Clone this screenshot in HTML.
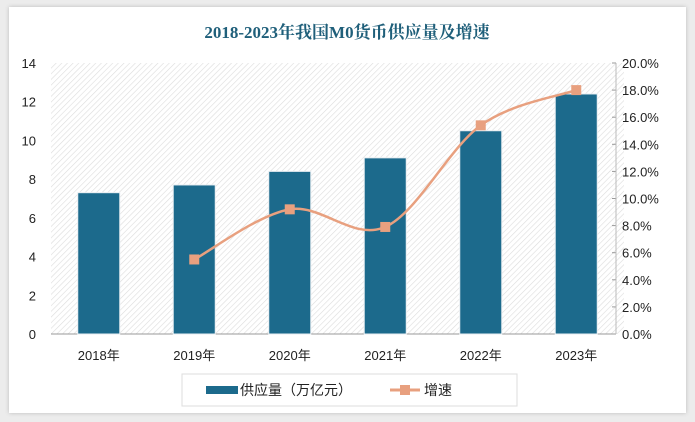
<!DOCTYPE html>
<html><head><meta charset="utf-8"><style>
body{margin:0;width:695px;height:422px;background:#ececec;overflow:hidden;font-family:"Liberation Sans","Noto Sans CJK SC",sans-serif}
#card{position:absolute;left:9px;top:7px;width:677px;height:406px;background:#fff;box-shadow:0 0 4px #bbb}
</style></head><body>
<div id="card"></div>
<svg id="chart" width="695" height="422" style="position:absolute;left:0;top:0">
<defs><pattern id="hatch" width="4" height="4" patternUnits="userSpaceOnUse" patternTransform="rotate(45)"><rect width="4" height="4" fill="#fff"/><line x1="0" y1="0" x2="0" y2="4" stroke="#dcdcdc" stroke-width="1.2"/></pattern></defs>
<text x="347" y="38" text-anchor="middle" font-size="17" font-weight="bold" fill="#1f5f7a" font-family="Liberation Serif,'Noto Serif CJK SC',serif">2018-2023年我国M0货币供应量及增速</text>
</svg>
<script>
const categories=["2018年","2019年","2020年","2021年","2022年","2023年"];
const supply=[7.3,7.7,8.4,9.1,10.5,12.4];
const growth=[null,5.5,9.2,7.9,15.4,18.0];
const leftTicks=[0,2,4,6,8,10,12,14];
const rightTicks=[0,2,4,6,8,10,12,14,16,18,20];
const svg=document.getElementById('chart');const NS='http://www.w3.org/2000/svg';
const L=51,R=624,T=63,B=334;
const bw=(R-L)/categories.length;
const yL=v=>B-(v/14)*(B-T);const yR=v=>B-(v/20)*(B-T);const xc=i=>L+bw*(i+0.5);
function mk(t,a){const e=document.createElementNS(NS,t);for(const k in a)e.setAttribute(k,a[k]);svg.appendChild(e);return e;}
const bg=mk('rect',{x:L,y:T,width:R-L,height:B-T,fill:'url(#hatch)'});


leftTicks.forEach(v=>{const t=mk('text',{x:36,y:yL(v)+5,'text-anchor':'end','font-size':13,fill:'#222'});t.textContent=v;

});
rightTicks.forEach(v=>{const t=mk('text',{x:622,y:yR(v)+5,'font-size':13,fill:'#222'});t.textContent=v.toFixed(1)+'%';


mk('line',{x1:612,x2:616,y1:yR(v),y2:yR(v),stroke:'#999'});});
mk('line',{x1:L,x2:616,y1:B,y2:B,stroke:'#999'});
mk('line',{x1:616,x2:616,y1:T,y2:B,stroke:'#bbb'});
supply.forEach((v,i)=>{const r=mk('rect',{x:xc(i)-21,y:yL(v),width:42,height:B-yL(v),fill:'#1c6a8c',stroke:'#e8eef2','stroke-width':1});


const t=mk('text',{x:xc(i),y:360,'text-anchor':'middle','font-size':13,fill:'#222'});t.textContent=categories[i];

});
const pts=[];growth.forEach((v,i)=>{if(v!=null)pts.push([xc(i),yR(v)]);});
let d='M'+pts[0].join(',');
for(let i=0;i<pts.length-1;i++){const p0=pts[i-1]||pts[i],p1=pts[i],p2=pts[i+1],p3=pts[i+2]||p2;
d+=` C${p1[0]+(p2[0]-p0[0])/6},${p1[1]+(p2[1]-p0[1])/6} ${p2[0]-(p3[0]-p1[0])/6},${p2[1]-(p3[1]-p1[1])/6} ${p2[0]},${p2[1]}`;}
const ln=mk('path',{d:d,fill:'none',stroke:'#e8a07f','stroke-width':2.5});


pts.forEach(p=>{const m=mk('rect',{x:p[0]-5,y:p[1]-5,width:10,height:10,fill:'#e8a07f'});

});
const lg=mk('rect',{x:182,y:374,width:335,height:32,fill:'#fff',stroke:'#ddd'});


mk('rect',{x:206,y:386,width:32,height:8,fill:'#1c6a8c'});
const t1=mk('text',{x:240,y:395,'font-size':14,fill:'#222'});t1.textContent='供应量（万亿元）';


mk('line',{x1:390,x2:420,y1:390,y2:390,stroke:'#e8a07f','stroke-width':3});
mk('rect',{x:400,y:385,width:10,height:10,fill:'#e8a07f'});
const t2=mk('text',{x:424,y:395,'font-size':14,fill:'#222'});t2.textContent='增速';


</script>
</body></html>
